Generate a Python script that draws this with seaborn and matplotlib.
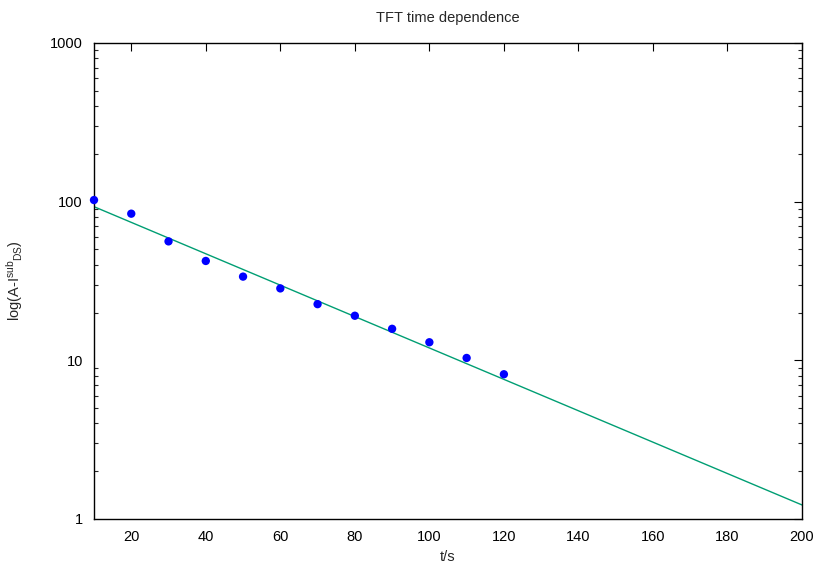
import matplotlib
matplotlib.use("Agg")
import matplotlib.pyplot as plt
import matplotlib.ticker as mticker
import seaborn as sns
import pandas as pd

# Data
t_values = [10, 20, 30, 40, 50, 60, 70, 80, 90, 100, 110, 120]
signal_values = [102.4, 84.0, 56.2, 42.3, 33.7, 28.4, 22.6, 19.1, 15.8, 13.0, 10.35, 8.17]
fit_t = [10, 200]
fit_values = [93.0, 1.226]
x_ticks = [20, 40, 60, 80, 100, 120, 140, 160, 180, 200]
y_ticks = [1, 10, 100, 1000]
y_tick_labels = ["1", "10", "100", "1000"]

sns.set_theme(style="white")
plt.rcParams["font.family"] = ["Liberation Sans", "DejaVu Sans"]
plt.rcParams["mathtext.fontset"] = "custom"
plt.rcParams["mathtext.rm"] = "Liberation Sans"
plt.rcParams["mathtext.it"] = "Liberation Sans"

fig = plt.figure(figsize=(8.2, 5.69), dpi=100)
ax = fig.add_axes([94/820, 1-519/569, (802-94)/820, (519-43)/569])

pts = pd.DataFrame({"t": t_values, "v": signal_values})
fit = pd.DataFrame({"t": fit_t, "v": fit_values})

sns.lineplot(data=fit, x="t", y="v", ax=ax, color="#009e73", linewidth=1.0, zorder=2)
sns.scatterplot(data=pts, x="t", y="v", ax=ax, color="#0000ff", s=36, edgecolor="none", zorder=3, clip_on=False)

ax.set_yscale("log")
ax.set_xlim(10, 200)
ax.set_ylim(1, 1000)
ax.set_xticks(x_ticks)
ax.set_xticklabels([str(v) for v in x_ticks])
ax.set_yticks(y_ticks)
ax.set_yticklabels(y_tick_labels)
ax.yaxis.set_minor_locator(mticker.LogLocator(base=10, subs=range(2, 10)))
ax.yaxis.set_minor_formatter(mticker.NullFormatter())

for s in ax.spines.values():
    s.set_color("black")
    s.set_linewidth(1.0)

ax.tick_params(axis="x", which="major", direction="in", length=6, width=0.8,
               top=True, labelsize=10.5, colors="black", pad=8)
ax.tick_params(axis="y", which="major", direction="in", length=6, width=0.8,
               right=True, labelsize=10.5, colors="black", pad=8)
ax.tick_params(axis="y", which="minor", direction="in", length=3, width=0.8,
               left=True, right=True)

ax.set_xlabel("t/s", fontsize=10.5, labelpad=4)
ax.set_ylabel(r"log(A-I$^{\mathrm{sub}}$$_{\mathrm{DS}}$)", fontsize=10.5, labelpad=18)
ax.set_title("TFT time dependence", fontsize=10.5, pad=15)

fig.savefig("out.png", dpi=100)
